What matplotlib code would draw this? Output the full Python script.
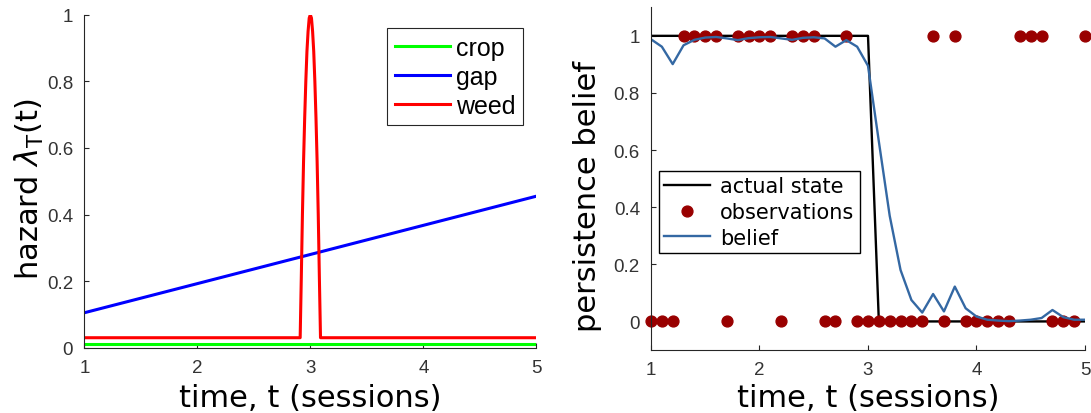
import matplotlib
matplotlib.use("Agg")
import matplotlib.pyplot as plt

# ---- hazard functions (left panel) ----
crop_t = [1.0, 5.0]
crop_hazard = [0.01, 0.01]

gap_t = [1.0, 5.0]
gap_hazard = [0.105, 0.455]

weed_t = [1.0, 2.91, 2.92, 2.93, 2.94, 2.95, 2.96, 2.97, 2.98, 2.99, 3.00,
          3.01, 3.02, 3.03, 3.04, 3.05, 3.06, 3.07, 3.08, 3.09, 5.0]
weed_hazard = [0.03, 0.03, 0.21, 0.40, 0.56, 0.69, 0.80, 0.89, 0.95, 0.99, 1.00,
               0.99, 0.95, 0.89, 0.80, 0.69, 0.56, 0.40, 0.21, 0.03, 0.03]

# ---- persistence tracking (right panel) ----
session_t = [1.0, 1.1, 1.2, 1.3, 1.4, 1.5, 1.6, 1.7, 1.8, 1.9, 2.0,
             2.1, 2.2, 2.3, 2.4, 2.5, 2.6, 2.7, 2.8, 2.9, 3.0,
             3.1, 3.2, 3.3, 3.4, 3.5, 3.6, 3.7, 3.8, 3.9, 4.0,
             4.1, 4.2, 4.3, 4.4, 4.5, 4.6, 4.7, 4.8, 4.9, 5.0]
actual_state = [1] * 21 + [0] * 20
observations = [0, 0, 0, 1, 1, 1, 1, 0, 1, 1, 1,
                1, 0, 1, 1, 1, 0, 0, 1, 0, 0,
                0, 0, 0, 0, 0, 1, 0, 1, 0, 0,
                0, 0, 0, 1, 1, 1, 0, 0, 0, 1]
belief = [0.988, 0.962, 0.901, 0.967, 0.986, 0.994, 0.996, 0.991, 0.985, 0.992, 0.995,
          0.996, 0.991, 0.986, 0.993, 0.995, 0.991, 0.962, 0.985, 0.962, 0.895,
          0.630, 0.370, 0.180, 0.075, 0.031, 0.096, 0.035, 0.122, 0.046, 0.017,
          0.006, 0.003, 0.001, 0.003, 0.006, 0.012, 0.040, 0.015, 0.006, 0.006]

x_ticks = [1, 2, 3, 4, 5]
y_ticks = [0, 0.2, 0.4, 0.6, 0.8, 1]
y_ticklabels = ["0", "0.2", "0.4", "0.6", "0.8", "1"]

AX_GREY = "#262626"
TICK_GREY = "#333333"
TICK_FONT = "Liberation Sans"
LABEL_FONT = "DejaVu Sans"

fig = plt.figure(figsize=(10.91, 4.14), dpi=100)
ax1 = fig.add_axes([0.0773, 0.1577, 0.4143, 0.8043])
ax2 = fig.add_axes([0.5967, 0.1522, 0.3978, 0.8278])


def style_axes(ax):
    for side in ("top", "right"):
        ax.spines[side].set_visible(False)
    for side in ("left", "bottom"):
        ax.spines[side].set_color(AX_GREY)
        ax.spines[side].set_linewidth(0.8)
    ax.tick_params(direction="in", length=3.5, width=0.8, colors=AX_GREY,
                   labelsize=13.5, pad=8)
    ax.set_xticks(x_ticks)
    ax.set_xticklabels([str(v) for v in x_ticks])
    ax.set_yticks(y_ticks)
    ax.set_yticklabels(y_ticklabels)
    for lab in ax.get_xticklabels() + ax.get_yticklabels():
        lab.set_fontfamily(TICK_FONT)
        lab.set_color(TICK_GREY)


# Left: hazard rates of the three object types
ax1.plot(crop_t, crop_hazard, color="#00ff00", lw=2.2, label="crop")
ax1.plot(gap_t, gap_hazard, color="#0000ff", lw=2.2, label="gap")
ax1.plot(weed_t, weed_hazard, color="#ff0000", lw=2.2, label="weed")
ax1.set_xlim(1, 5)
ax1.set_ylim(0, 1)
style_axes(ax1)
ax1.set_xlabel("time, t (sessions)", fontsize=22, family=LABEL_FONT)
ax1.set_ylabel(r"hazard $\lambda_\mathsf{T}$(t)", fontsize=22, family=LABEL_FONT)
ax1.xaxis.set_label_coords(0.5, -0.106)
ax1.yaxis.set_label_coords(-0.085, 0.48)
leg1 = ax1.legend(loc="upper right", bbox_to_anchor=(0.97, 0.96),
                  prop={"family": TICK_FONT, "size": 18},
                  handlelength=2.2, handletextpad=0.25, labelspacing=0.2,
                  borderpad=0.3, borderaxespad=0.0, fancybox=False,
                  framealpha=1.0)
leg1.get_frame().set_edgecolor(AX_GREY)
leg1.get_frame().set_linewidth(0.8)

# Right: actual state, noisy observations and tracked belief
ax2.plot(session_t, actual_state, color="black", lw=1.7, label="actual state")
ax2.plot(session_t, observations, linestyle="none", marker="o", ms=7.8,
         color="#990000", clip_on=False, label="observations")
ax2.plot(session_t, belief, color="#3468a3", lw=1.7, label="belief")
ax2.set_xlim(1, 5)
ax2.set_ylim(-0.1, 1.1)
style_axes(ax2)
ax2.set_xlabel("time, t (sessions)", fontsize=22, family=LABEL_FONT)
ax2.set_ylabel("persistence belief", fontsize=22, family=LABEL_FONT)
ax2.xaxis.set_label_coords(0.5, -0.096)
ax2.yaxis.set_label_coords(-0.113, 0.452)
leg2 = ax2.legend(loc="upper left", bbox_to_anchor=(0.018, 0.523),
                  prop={"family": LABEL_FONT, "size": 15},
                  handlelength=2.2, handletextpad=0.5, labelspacing=0.28,
                  borderpad=0.25, borderaxespad=0.0, fancybox=False,
                  framealpha=1.0)
leg2.get_frame().set_edgecolor("black")
leg2.get_frame().set_linewidth(1.0)

fig.savefig("out.png", dpi=100)
